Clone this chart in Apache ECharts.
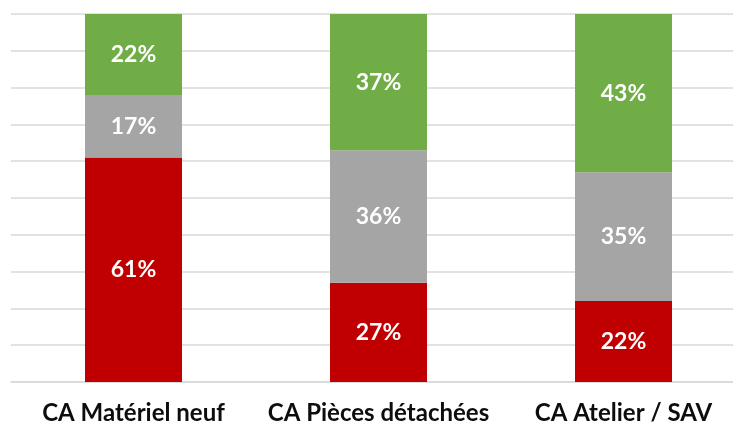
<!DOCTYPE html>
<html>
<head>
<meta charset="utf-8">
<script src="https://cdn.jsdelivr.net/npm/echarts@6/dist/echarts.min.js"></script>
<style>
  html, body { margin: 0; padding: 0; background: #fff; overflow: hidden; }
  /* wider than the window: the plot runs past the right edge in the original */
  #chart { width: 760px; height: 425px; }
</style>
</head>
<body>
<div id="chart"></div>
<script>
// categories + shares (%)
const categories = ['CA Matériel neuf', 'CA Pièces détachées', 'CA Atelier / SAV'];
const redValues = [61, 27, 22];
const greyValues = [17, 36, 35];
const greenValues = [22, 37, 43];

const chart = echarts.init(document.getElementById('chart'));

const labelStyle = {
  show: true,
  position: 'inside',
  formatter: '{c}%',
  color: '#fff',
  fontFamily: 'Lato',
  fontWeight: 'bold',
  fontSize: 23
};

function makeSeries(name, data, color) {
  return {
    name: name,
    type: 'bar',
    stack: 'total',
    barWidth: 97,
    data: data,
    itemStyle: { color: color },
    label: labelStyle
  };
}

chart.setOption({
  animation: false,
  grid: { left: 11, top: 14, width: 735, height: 368, outerBoundsMode: 'none' },
  xAxis: {
    type: 'category',
    data: categories,
    axisTick: { show: false },
    axisLine: { lineStyle: { color: '#d9d9d9', width: 1.5 } },
    axisLabel: {
      interval: 0,
      color: '#0d0d0d',
      fontFamily: 'Lato',
      fontWeight: 'bold',
      fontSize: 24,
      margin: 19
    }
  },
  yAxis: {
    type: 'value',
    min: 0,
    max: 100,
    interval: 10,
    axisLabel: { show: false },
    axisLine: { show: false },
    axisTick: { show: false },
    splitLine: { lineStyle: { color: '#d9d9d9', width: 1.5 } }
  },
  series: [
    makeSeries('red', redValues, '#c00000'),
    makeSeries('grey', greyValues, '#a5a5a5'),
    makeSeries('green', greenValues, '#70ad47')
  ]
});
</script>
</body>
</html>
